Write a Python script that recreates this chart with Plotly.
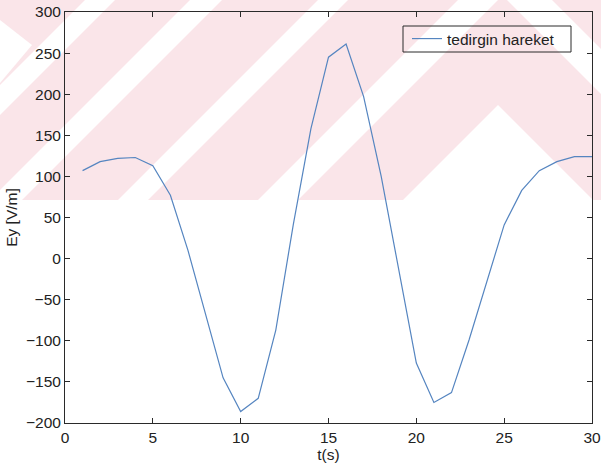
import plotly.graph_objects as go

# Data
t_values = list(range(1, 31))
ey_values = [107, 118, 122, 123, 113, 77, 10, -68, -145, -186,
             -170, -87, 42, 158, 245, 261, 197, 100, -15, -127,
             -175, -163, -99, -30, 41, 83, 107, 118, 124, 124]
series_name = "tedirgin hareket"
x_ticks = [0, 5, 10, 15, 20, 25, 30]
y_ticks = [-200, -150, -100, -50, 0, 50, 100, 150, 200, 250, 300]

W, H = 601, 471
L, R, T, B = 65, 9, 12, 48
PW, PH = W - L - R, H - T - B


def to_paper(px, py):
    return (px - L) / PW, (H - B - py) / PH


def poly(pts):
    parts = []
    for i, (x, y) in enumerate(pts):
        xp, yp = to_paper(x, y)
        parts.append(("M " if i == 0 else "L ") + f"{xp:.4f},{yp:.4f}")
    return " ".join(parts) + " Z"


pink = "rgb(250,229,233)"
white = "rgb(255,255,255)"
shapes = [dict(type="path", xref="paper", yref="paper", layer="below",
               path=poly([(0, 0), (W, 0), (W, 200), (0, 200)]),
               fillcolor=pink, line=dict(width=0))]
white_polys = [
    [(0, 20), (32, 45), (0, 83)],
    [(85, 0), (115, 0), (0, 115), (0, 85)],
    [(190, 0), (222, 0), (22, 200), (-10, 200)],
    [(318, 0), (348, 0), (148, 200), (118, 200)],
    [(458, 0), (498, 0), (298, 200), (258, 200)],
    [(507, 0), (552, 0), (W, 49), (W, 94)],
    [(498, 105), (593, 200), (403, 200)],
]
for p in white_polys:
    shapes.append(dict(type="path", xref="paper", yref="paper", layer="below",
                       path=poly(p), fillcolor=white, line=dict(width=0)))

# legend frame (MATLAB-style box)
lx0, ly0 = to_paper(403, 26)
lx1, ly1 = to_paper(571, 52)
shapes.append(dict(type="rect", xref="paper", yref="paper", layer="above",
                   x0=lx0, y0=ly1, x1=lx1, y1=ly0,
                   line=dict(color="#2a2a2a", width=1), fillcolor="rgba(0,0,0,0)"))

font_main = dict(family="Liberation Sans", size=15.5, color="#222")

fig = go.Figure()
fig.add_trace(go.Scatter(x=t_values, y=ey_values, mode="lines", name=series_name,
                         line=dict(color="#5585c0", width=1.2)))

axis_common = dict(showline=True, linecolor="#2a2a2a", linewidth=1, mirror="ticks",
                   ticks="inside", ticklen=5, tickcolor="#2a2a2a", showgrid=False,
                   zeroline=False, tickfont=font_main, automargin=False)

fig.update_xaxes(range=[0, 30], tickvals=x_ticks, title=dict(text="t(s)", standoff=1,
                 font=font_main), **axis_common)
fig.update_yaxes(range=[-200, 300], tickvals=y_ticks, title=dict(text="Ey [V/m]", standoff=4,
                 font=font_main), **axis_common)

fig.update_layout(
    width=W, height=H,
    margin=dict(l=L, r=R, t=T, b=B, pad=0, autoexpand=False),
    paper_bgcolor="white", plot_bgcolor="rgba(0,0,0,0)",
    shapes=shapes,
    showlegend=True,
    legend=dict(x=(407 - L) / PW, y=(H - B - 22) / PH, xanchor="left", yanchor="top",
                bgcolor="rgba(0,0,0,0)", borderwidth=0,
                font=font_main, itemwidth=30, tracegroupgap=0),
)

fig.write_html("out.html")
